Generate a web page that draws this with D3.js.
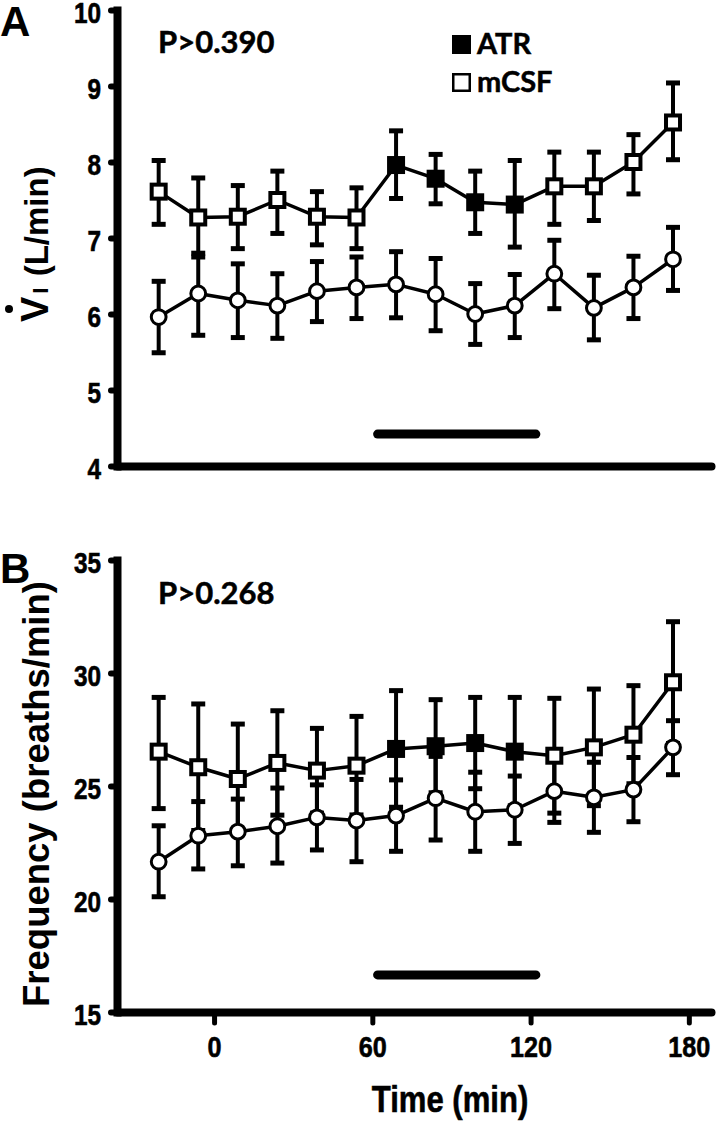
<!DOCTYPE html>
<html><head><meta charset="utf-8">
<script src="https://cdn.jsdelivr.net/npm/d3@7"></script>
<style>
body{margin:0;background:#fff}
svg{display:block}
</style></head><body>
<svg id="c" width="720" height="1124"></svg>
<script>
// ---------------- data ----------------
const timePoints = [-21, -6, 9, 24, 39, 54, 69, 84, 99, 114, 129, 144, 159, 174];
const atrPeriod  = [false, false, false, false, false, false, true, true, true, true, false, false, false, false];
const xTicks = [0, 60, 120, 180];
const viTicks = [4, 5, 6, 7, 8, 9, 10];
const freqTicks = [15, 20, 25, 30, 35];

// Panel A: inspired ventilation (L/min)
const viExpMean  = [7.61, 7.27, 7.28, 7.50, 7.28, 7.27, 7.96, 7.78, 7.47, 7.44, 7.68, 7.68, 8.00, 8.52];
const viExpUpper = [8.02, 7.79, 7.69, 7.88, 7.61, 7.66, 8.41, 8.10, 7.88, 8.02, 8.13, 8.13, 8.36, 9.04];
const viExpLower = [7.18, 6.80, 6.86, 7.06, 6.91, 6.86, 7.52, 7.45, 7.06, 6.88, 7.18, 7.23, 7.58, 8.03];
const viCtlMean  = [5.96, 6.27, 6.18, 6.11, 6.30, 6.35, 6.39, 6.26, 6.00, 6.11, 6.53, 6.08, 6.35, 6.72];
const viCtlUpper = [6.43, 6.75, 6.66, 6.53, 6.69, 6.75, 6.82, 6.73, 6.40, 6.52, 6.97, 6.51, 6.76, 7.14];
const viCtlLower = [5.49, 5.72, 5.69, 5.68, 5.90, 5.94, 5.95, 5.78, 5.60, 5.69, 6.07, 5.66, 5.94, 6.31];

// Panel B: breathing frequency (breaths/min)
const fExpMean  = [26.52, 25.83, 25.31, 26.02, 25.68, 25.90, 26.64, 26.76, 26.90, 26.52, 26.34, 26.71, 27.27, 29.59];
const fExpUpper = [28.92, 28.63, 27.74, 28.33, 27.55, 28.08, 29.22, 28.82, 28.92, 28.92, 28.88, 29.29, 29.44, 32.27];
const fExpLower = [24.00, 23.03, 22.88, 23.71, 23.80, 23.72, 24.06, 24.70, 24.88, 24.12, 23.80, 24.13, 25.10, 26.88];
const fCtlMean  = [21.65, 22.80, 22.98, 23.22, 23.61, 23.47, 23.69, 24.46, 23.86, 23.95, 24.77, 24.50, 24.84, 26.71];
const fCtlUpper = [23.24, 24.31, 24.42, 24.91, 25.05, 25.29, 25.27, 26.31, 25.61, 25.44, 26.15, 26.05, 26.26, 27.89];
const fCtlLower = [20.10, 21.33, 21.47, 21.59, 22.17, 21.65, 22.11, 22.61, 22.11, 22.46, 23.39, 22.95, 23.42, 25.50];

const treatmentBar = [62, 122];
const barLevelA = 4.42;
const barLevelB = 16.64;
const pTextA = "P>0.390";
const pTextB = "P>0.268";
const legendLabels = ["ATR", "mCSF"];

// ---------------- drawing ----------------
const svg = d3.select("#c");
const boldFont = '"Liberation Sans",Arial,sans-serif';
const annFont = 'Lato,"Open Sans",sans-serif';
const NARROW = 0.84;

const x = d3.scaleLinear().domain([-36.8, 188.4]).range([117, 711]);
const yA = d3.scaleLinear().domain([4, 10]).range([466, 10]);
const yB = d3.scaleLinear().domain([15, 35]).range([1012, 560]);

function narrowText(sel) {
  sel.each(function () {
    const t = d3.select(this);
    const xx = +t.attr("x") || 0;
    t.attr("x", xx / NARROW).attr("transform", `scale(${NARROW},1)`)
      .attr("stroke", "#000").attr("stroke-width", 0.6);
  });
}

function panel(y, ticks, showX, sq, ci, barLevel) {
  // y axis
  const ax = svg.append("g").attr("transform", `translate(${x.range()[0]},0)`)
    .call(d3.axisLeft(y).tickValues(ticks).tickFormat(d3.format("d"))
      .tickSize(6).tickSizeOuter(0).tickPadding(10));
  ax.select(".domain").attr("stroke-width", 8).attr("stroke-linecap", "square");
  ax.selectAll(".tick line").attr("stroke-width", 6).attr("stroke-linecap", "round");
  ax.selectAll(".tick text").attr("font-family", boldFont).attr("font-weight", "bold")
    .attr("font-size", 29).attr("fill", "#000").attr("dy", "0.44em").call(narrowText);

  // x axis
  const y0 = y.range()[0];
  const bx = svg.append("g").attr("transform", `translate(0,${y0})`)
    .call(d3.axisBottom(x).tickValues(showX ? xTicks : []).tickFormat(d3.format("d"))
      .tickSize(11).tickSizeOuter(0));
  bx.select(".domain").attr("stroke-width", 8).attr("stroke-linecap", "round");
  bx.selectAll(".tick line").attr("stroke-width", 5).attr("stroke-linecap", "round");
  bx.selectAll(".tick text").attr("font-family", boldFont).attr("font-weight", "bold")
    .attr("font-size", 30).attr("fill", "#000").attr("y", 45).attr("dy", 0).call(narrowText);

  // treatment bar
  svg.append("line")
    .attr("x1", x(treatmentBar[0])).attr("x2", x(treatmentBar[1]))
    .attr("y1", y(barLevel)).attr("y2", y(barLevel))
    .attr("stroke", "#000").attr("stroke-width", 9).attr("stroke-linecap", "round");

  const g = svg.append("g");
  const series = [ci, sq];
  // error bars
  series.forEach(s => {
    timePoints.forEach((t, i) => {
      const cx = x(t);
      g.append("line").attr("x1", cx).attr("x2", cx)
        .attr("y1", y(s.upper[i])).attr("y2", y(s.lower[i]))
        .attr("stroke", "#000").attr("stroke-width", 4);
      [s.upper[i], s.lower[i]].forEach(v => {
        g.append("line").attr("x1", cx - 7).attr("x2", cx + 7)
          .attr("y1", y(v)).attr("y2", y(v))
          .attr("stroke", "#000").attr("stroke-width", 5);
      });
    });
  });
  // lines
  const line = d3.line().x((d, i) => x(timePoints[i])).y(d => y(d));
  series.forEach(s => {
    g.append("path").attr("d", line(s.mean)).attr("fill", "none")
      .attr("stroke", "#000").attr("stroke-width", 3.5).attr("stroke-linejoin", "round");
  });
  // circle markers
  g.selectAll(null).data(ci.mean).enter().append("circle")
    .attr("cx", (d, i) => x(timePoints[i])).attr("cy", d => y(d)).attr("r", 7.4)
    .attr("fill", "#fff").attr("stroke", "#000").attr("stroke-width", 3);
  // square markers
  g.selectAll(null).data(sq.mean).enter().append("rect")
    .attr("x", (d, i) => x(timePoints[i]) - 7).attr("y", d => y(d) - 7)
    .attr("width", 14).attr("height", 14)
    .attr("fill", (d, i) => atrPeriod[i] ? "#000" : "#fff")
    .attr("stroke", "#000").attr("stroke-width", 4);
}

panel(yA, viTicks, false,
  {mean: viExpMean, upper: viExpUpper, lower: viExpLower},
  {mean: viCtlMean, upper: viCtlUpper, lower: viCtlLower}, barLevelA);
panel(yB, freqTicks, true,
  {mean: fExpMean, upper: fExpUpper, lower: fExpLower},
  {mean: fCtlMean, upper: fCtlUpper, lower: fCtlLower}, barLevelB);

// panel letters
svg.append("text").attr("x", 0).attr("y", 36).text("A")
  .attr("font-family", boldFont).attr("font-weight", "bold").attr("font-size", 42);
svg.append("text").attr("x", 0).attr("y", 583).text("B")
  .attr("font-family", boldFont).attr("font-weight", "bold").attr("font-size", 42);

// P values
svg.append("text").attr("x", 158).attr("y", 53).text(pTextA)
  .attr("font-family", annFont).attr("font-weight", "bold").attr("font-size", 31)
  .attr("stroke", "#000").attr("stroke-width", 0.5);
svg.append("text").attr("x", 158).attr("y", 604).text(pTextB)
  .attr("font-family", annFont).attr("font-weight", "bold").attr("font-size", 31)
  .attr("stroke", "#000").attr("stroke-width", 0.5);

// legend
svg.append("rect").attr("x", 452).attr("y", 35).attr("width", 19).attr("height", 19).attr("fill", "#000");
svg.append("rect").attr("x", 453.25).attr("y", 74.25).attr("width", 16.5).attr("height", 16.5)
  .attr("fill", "#fff").attr("stroke", "#000").attr("stroke-width", 2.5);
svg.append("text").attr("x", 477).attr("y", 54).text(legendLabels[0])
  .attr("font-family", annFont).attr("font-weight", "bold").attr("font-size", 29)
  .attr("stroke", "#000").attr("stroke-width", 0.5);
svg.append("text").attr("x", 477).attr("y", 92).text(legendLabels[1])
  .attr("font-family", annFont).attr("font-weight", "bold").attr("font-size", 29)
  .attr("stroke", "#000").attr("stroke-width", 0.5);

// y title A
const tA = svg.append("text").attr("transform", "translate(48,322) rotate(-90)")
  .attr("font-family", boldFont).attr("font-weight", "bold").attr("text-anchor", "start");
tA.append("tspan").attr("font-size", 38).text("V");
tA.append("tspan").attr("font-size", 22).attr("dx", 3).text("I");
tA.append("tspan").attr("font-size", 33).attr("dx", 2).text(" (L/min)");
svg.append("circle").attr("cx", 9).attr("cy", 309).attr("r", 4).attr("fill", "#000");

// y title B
svg.append("text").attr("transform", "translate(49,794) rotate(-90)")
  .attr("text-anchor", "middle").attr("font-family", boldFont).attr("font-weight", "bold")
  .attr("font-size", 36.5).text("Frequency (breaths/min)");

// x title
svg.append("text").attr("x", 450 / NARROW).attr("y", 1112).attr("text-anchor", "middle")
  .attr("transform", `scale(${NARROW},1)`).attr("stroke", "#000").attr("stroke-width", 0.6)
  .attr("font-family", boldFont).attr("font-weight", "bold").attr("font-size", 37).text("Time (min)");
</script>
</body></html>
